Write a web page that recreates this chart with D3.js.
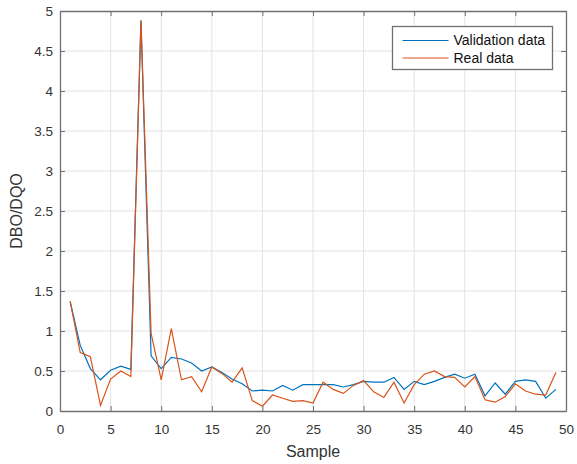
<!DOCTYPE html>
<html>
<head>
<meta charset="utf-8">
<script src="https://cdn.jsdelivr.net/npm/d3@7"></script>
<style>
  body { margin: 0; background: #fff; }
  svg { font-family: "Liberation Sans", Arial, sans-serif; }
</style>
</head>
<body>
<div id="chart"></div>
<script>
// sample index 1..49
var samples = d3.range(1, 50);
var validation = [1.37, 0.82, 0.53, 0.39, 0.51, 0.56, 0.52, 4.88, 0.69, 0.53,
                  0.67, 0.65, 0.60, 0.50, 0.55, 0.48, 0.40, 0.34, 0.25, 0.26,
                  0.25, 0.32, 0.26, 0.33, 0.33, 0.33, 0.33, 0.30, 0.33, 0.37,
                  0.36, 0.36, 0.42, 0.27, 0.37, 0.33, 0.37, 0.42, 0.46, 0.41,
                  0.46, 0.19, 0.35, 0.21, 0.37, 0.39, 0.37, 0.16, 0.27];
var real = [1.37, 0.73, 0.68, 0.07, 0.40, 0.50, 0.43, 4.88, 0.97, 0.39,
            1.03, 0.39, 0.43, 0.24, 0.55, 0.47, 0.36, 0.54, 0.13, 0.06,
            0.20, 0.16, 0.12, 0.13, 0.10, 0.36, 0.27, 0.22, 0.32, 0.38,
            0.24, 0.17, 0.36, 0.10, 0.33, 0.46, 0.50, 0.43, 0.42, 0.30,
            0.43, 0.14, 0.11, 0.18, 0.34, 0.25, 0.21, 0.20, 0.48];
var xTicks = [0, 5, 10, 15, 20, 25, 30, 35, 40, 45, 50];
var yTicks = [0, 0.5, 1, 1.5, 2, 2.5, 3, 3.5, 4, 4.5, 5];
var seriesNames = ["Validation data", "Real data"];
var colors = ["#0072bd", "#d95319"];

function draw_chart() {
    var width = 577, height = 464;
    var pLeft = 60, pRight = 566, pTop = 11, pBottom = 411;

    var svg = d3.select("#chart").append("svg")
        .attr("width", width)
        .attr("height", height);

    var x = d3.scaleLinear().domain([0, 50]).range([pLeft, pRight]);
    var y = d3.scaleLinear().domain([0, 5]).range([pBottom, pTop]);

    // grid
    var grid = svg.append("g").attr("class", "grid");
    grid.selectAll(".gx").data(xTicks.slice(1, -1)).enter().append("line")
        .attr("x1", function(d) { return x(d); }).attr("x2", function(d) { return x(d); })
        .attr("y1", pTop).attr("y2", pBottom)
        .attr("stroke", "#e3e3e3").attr("stroke-width", 1);
    grid.selectAll(".gy").data(yTicks.slice(1, -1)).enter().append("line")
        .attr("y1", function(d) { return y(d); }).attr("y2", function(d) { return y(d); })
        .attr("x1", pLeft).attr("x2", pRight)
        .attr("stroke", "#e3e3e3").attr("stroke-width", 1);

    // lines
    var line = d3.line()
        .x(function(d) { return x(d[0]); })
        .y(function(d) { return y(d[1]); });

    [validation, real].forEach(function(vals, i) {
        svg.append("path")
            .datum(samples.map(function(s, j) { return [s, vals[j]]; }))
            .attr("fill", "none")
            .attr("stroke", colors[i])
            .attr("stroke-width", 1.2)
            .attr("d", line);
    });

    // axes, matlab box style with inner ticks
    var axisColor = "#707070";
    var textColor = "#333";
    var xAxis = svg.append("g")
        .attr("transform", "translate(0," + pBottom + ")")
        .call(d3.axisBottom(x).tickValues(xTicks).tickSizeInner(-5).tickSizeOuter(0).tickPadding(13));
    var yAxis = svg.append("g")
        .attr("transform", "translate(" + pLeft + ",0)")
        .call(d3.axisLeft(y).tickValues(yTicks).tickSizeInner(-5).tickSizeOuter(0).tickPadding(7)
              .tickFormat(function(d) { return d; }));
    var xTop = svg.append("g")
        .attr("transform", "translate(0," + pTop + ")")
        .call(d3.axisTop(x).tickValues(xTicks).tickSizeInner(-5).tickSizeOuter(0).tickFormat(""));
    var yRight = svg.append("g")
        .attr("transform", "translate(" + pRight + ",0)")
        .call(d3.axisRight(y).tickValues(yTicks).tickSizeInner(-5).tickSizeOuter(0).tickFormat(""));

    [xAxis, yAxis, xTop, yRight].forEach(function(g) {
        g.select(".domain").attr("stroke", axisColor).attr("stroke-width", 1.3);
        g.selectAll(".tick line").attr("stroke", axisColor);
        g.selectAll(".tick text").attr("fill", textColor).style("font-size", "13.5px")
            .style("font-family", "'Liberation Sans', Arial, sans-serif");
    });

    // axis labels
    svg.append("text")
        .attr("x", (pLeft + pRight) / 2).attr("y", 457)
        .attr("text-anchor", "middle")
        .attr("fill", textColor)
        .style("font-size", "16px")
        .text("Sample");
    svg.append("text")
        .attr("transform", "translate(22," + (pTop + pBottom) / 2 + ") rotate(-90)")
        .attr("text-anchor", "middle")
        .attr("fill", textColor)
        .style("font-size", "16px")
        .text("DBO/DQO");

    // legend
    var legend = svg.append("g").attr("transform", "translate(392.5,26.5)");
    legend.append("rect")
        .attr("width", 160).attr("height", 43)
        .attr("fill", "#fff").attr("stroke", axisColor).attr("stroke-width", 1.3);
    seriesNames.forEach(function(name, i) {
        var ly = 14 + i * 17.5;
        legend.append("line")
            .attr("x1", 10).attr("x2", 56).attr("y1", ly).attr("y2", ly)
            .attr("stroke", colors[i]).attr("stroke-width", 1.2);
        legend.append("text")
            .attr("x", 61).attr("y", ly).attr("dy", "0.35em")
            .attr("fill", "#111")
            .style("font-size", "14px")
            .text(name);
    });
}

draw_chart();
</script>
</body>
</html>
